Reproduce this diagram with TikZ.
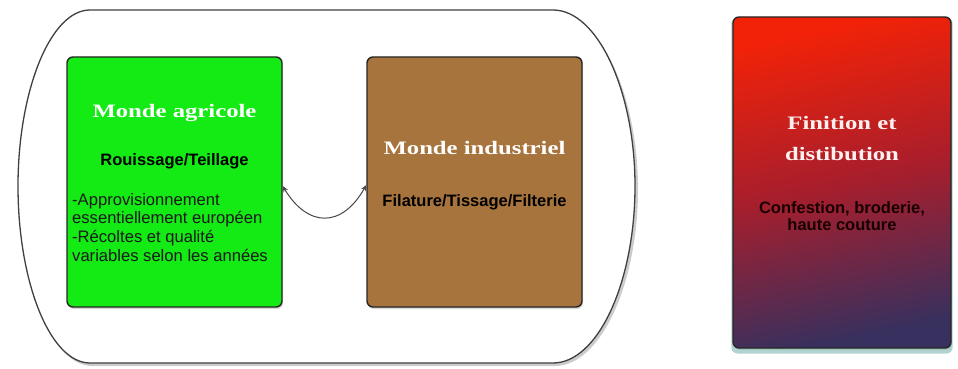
\documentclass[tikz,border=0pt]{standalone}
\usepackage{fontspec}
\setmainfont{Liberation Sans}
\newfontfamily\titlef{Liberation Serif}[FakeStretch=1.3,UprightFont=* Bold]
\usetikzlibrary{shadows,arrows.meta}
\definecolor{agricol}{HTML}{14EA14}
\definecolor{induscol}{HTML}{A8743E}
\definecolor{redtop}{HTML}{F22208}
\definecolor{redmid}{HTML}{A81E2C}
\definecolor{redbot}{HTML}{38305E}
\definecolor{glow}{HTML}{7FB8B0}
\begin{document}
\begin{tikzpicture}[x=1pt,y=-1pt,
  box/.style={draw=black!85, line width=1.4pt, rounded corners=6pt,
    minimum width=215pt, minimum height=250pt, inner sep=0pt,
    drop shadow={opacity=0.3, shadow xshift=1pt, shadow yshift=-2pt}},
  titletext/.style={text=white, font=\titlef\fontsize{19}{31}\selectfont, align=center, inner sep=0pt},
  subtext/.style={text=black, font=\bfseries\fontsize{16.5}{17}\selectfont, align=center, inner sep=0pt},
  listtext/.style={text=black!90, font=\fontsize{16.6}{18.6}\selectfont, align=left, inner sep=0pt},
  link/.style={<->, >={Stealth[length=6pt,width=5pt]}, line width=1pt, black!72}]
\useasboundingbox (0,0) rectangle (958,369);
% outer container
\fill[black!40, opacity=0.5] (92,13) -- (555,13)
  .. controls (600,13) and (638,95) .. (638,189)
  .. controls (638,285) and (600,366) .. (555,366)
  -- (92,366) .. controls (52,366) and (20,285) .. (20,189)
  .. controls (20,95) and (52,13) .. (92,13) -- cycle;
\draw[draw=black!75, fill=white, line width=1.3pt] (90,10) -- (553,10)
  .. controls (598,10) and (635,92) .. (635,186)
  .. controls (635,282) and (598,363) .. (553,363)
  -- (90,363) .. controls (50,363) and (18,282) .. (18,186)
  .. controls (18,92) and (50,10) .. (90,10) -- cycle;
% boxes
\node[box, fill=agricol] (agri) at (174.5,182) {};
\node[box, fill=induscol] (indus) at (474.5,182) {};
\node[box, minimum width=218pt, minimum height=331pt,
  top color=redtop, bottom color=redbot, middle color=redmid, shading angle=12,
  drop shadow={opacity=0.6, fill=glow, shadow xshift=0pt, shadow yshift=-3pt, shadow scale=1.015}] (fin) at (842,182.5) {};
% texts
\node[titletext] (agrititle) at (174.5,113) {Monde agricole};
\node[subtext] (agrisub) at (174.5,161) {Rouissage/Teillage};
\node[listtext, anchor=north west] (agrilist) at (72,193) {-Approvisionnement\\essentiellement européen\\-Récoltes et qualité\\variables selon les années};
\node[titletext] (industitle) at (474.5,148) {Monde industriel};
\node[subtext] (indussub) at (474.5,202) {Filature/Tissage/Filterie};
\node[titletext, text=white!94!red] (fintitle) at (842,139) {Finition et\\distibution};
\node[subtext, text=black!90!red, font=\bfseries\fontsize{16.5}{16.5}\selectfont] (finsub) at (842,216) {Confestion, broderie,\\haute couture};
% connector
\draw[link] ([yshift=-4pt]agri.east) .. controls (308,228) and (342,228) .. ([yshift=-3pt]indus.west);
\end{tikzpicture}
\end{document}
